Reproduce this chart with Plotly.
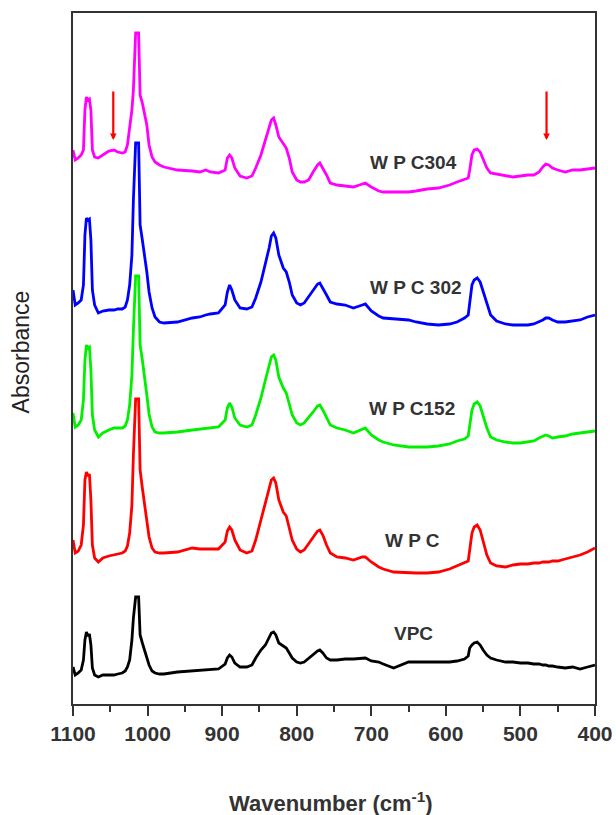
import plotly.graph_objects as go

# Wavenumber grid (cm^-1), shared by all spectra
wavenumber = [
    1100, 1097, 1093, 1089, 1086, 1084, 1082, 1080, 1078, 1076,
    1074, 1071, 1066, 1060, 1052, 1045, 1040, 1034, 1030, 1027,
    1024, 1021, 1019, 1017, 1016, 1012, 1011, 1010, 1007, 1004,
    1001, 998, 994, 990, 984, 978, 960, 940, 930, 922,
    916, 905, 896, 893, 890, 887, 883, 876, 867, 860,
    855, 848, 842, 837, 834, 831, 828, 824, 818, 814,
    810, 806, 800, 795, 790, 784, 778, 772, 769, 765,
    760, 755, 746, 735, 724, 712, 708, 700, 690, 684,
    670, 650, 640, 625, 610, 595, 585, 575, 570, 568,
    565, 562, 558, 554, 550, 545, 540, 532, 520, 510,
    500, 490, 482, 475, 470, 466, 462, 457, 450, 440,
    430, 420, 410, 400,
]

# Absorbance (a.u., stacked as drawn)
wpc304 = [
    5.54, 5.44, 5.46, 5.49, 5.54, 5.94, 6.07, 6.04, 6.05, 5.94,
    5.54, 5.47, 5.46, 5.49, 5.53, 5.54, 5.52, 5.51, 5.52, 5.59,
    5.74, 5.94, 6.14, 6.64, 6.71, 6.71, 6.24, 6.09, 6.01, 5.91,
    5.79, 5.59, 5.47, 5.42, 5.39, 5.37, 5.34, 5.33, 5.32, 5.34,
    5.32, 5.31, 5.34, 5.46, 5.49, 5.46, 5.36, 5.28, 5.26, 5.28,
    5.36, 5.49, 5.64, 5.74, 5.84, 5.86, 5.79, 5.67, 5.61, 5.56,
    5.46, 5.32, 5.24, 5.22, 5.22, 5.24, 5.32, 5.39, 5.41, 5.36,
    5.29, 5.21, 5.19, 5.18, 5.17, 5.20, 5.21, 5.17, 5.13, 5.12,
    5.12, 5.12, 5.13, 5.15, 5.16, 5.19, 5.22, 5.25, 5.26, 5.34,
    5.49, 5.54, 5.55, 5.52, 5.44, 5.36, 5.31, 5.30, 5.29, 5.27,
    5.28, 5.29, 5.29, 5.32, 5.37, 5.40, 5.39, 5.36, 5.34, 5.32,
    5.34, 5.34, 5.35, 5.36,
]

wpc302 = [
    4.14, 3.99, 4.01, 4.04, 4.19, 4.69, 4.86, 4.84, 4.85, 4.64,
    4.14, 3.99, 3.91, 3.93, 3.94, 3.94, 3.95, 3.95, 3.97, 4.04,
    4.19, 4.49, 5.04, 5.56, 5.61, 5.61, 5.04, 4.79, 4.64, 4.49,
    4.32, 4.12, 3.96, 3.87, 3.82, 3.81, 3.82, 3.86, 3.87, 3.89,
    3.90, 3.91, 3.99, 4.12, 4.19, 4.14, 4.04, 3.96, 3.95, 3.97,
    4.06, 4.22, 4.39, 4.56, 4.68, 4.71, 4.66, 4.49, 4.36, 4.32,
    4.22, 4.09, 4.01, 3.99, 4.01, 4.07, 4.14, 4.20, 4.21, 4.16,
    4.09, 4.02, 4.00, 3.99, 3.96, 3.99, 4.00, 3.93, 3.88, 3.86,
    3.85, 3.84, 3.82, 3.80, 3.79, 3.80, 3.82, 3.86, 3.89, 3.99,
    4.19, 4.24, 4.26, 4.22, 4.12, 3.99, 3.89, 3.83, 3.80, 3.79,
    3.79, 3.79, 3.80, 3.82, 3.84, 3.86, 3.86, 3.84, 3.82, 3.82,
    3.83, 3.84, 3.87, 3.89,
]

wpc152 = [
    2.91, 2.77, 2.79, 2.84, 3.04, 3.44, 3.59, 3.56, 3.57, 3.34,
    2.89, 2.74, 2.67, 2.71, 2.74, 2.76, 2.76, 2.76, 2.78, 2.84,
    2.99, 3.29, 3.74, 4.22, 4.28, 4.28, 3.84, 3.59, 3.44, 3.29,
    3.09, 2.90, 2.77, 2.72, 2.71, 2.71, 2.72, 2.74, 2.75, 2.76,
    2.76, 2.77, 2.84, 2.96, 3.01, 2.97, 2.86, 2.79, 2.77, 2.79,
    2.89, 3.06, 3.24, 3.38, 3.47, 3.49, 3.44, 3.27, 3.16, 3.11,
    3.01, 2.89, 2.81, 2.79, 2.81, 2.86, 2.92, 2.98, 2.99, 2.94,
    2.86, 2.79, 2.76, 2.74, 2.71, 2.75, 2.76, 2.69, 2.64, 2.62,
    2.59, 2.57, 2.57, 2.57, 2.58, 2.60, 2.63, 2.65, 2.68, 2.79,
    2.94, 3.00, 3.02, 2.98, 2.88, 2.76, 2.67, 2.64, 2.62, 2.61,
    2.61, 2.62, 2.63, 2.66, 2.68, 2.69, 2.68, 2.66, 2.67, 2.68,
    2.70, 2.71, 2.72, 2.73,
]

wpc = [
    1.64, 1.51, 1.53, 1.59, 1.79, 2.24, 2.32, 2.28, 2.30, 2.04,
    1.59, 1.46, 1.42, 1.46, 1.48, 1.49, 1.50, 1.51, 1.53, 1.58,
    1.71, 1.99, 2.49, 2.99, 3.05, 3.05, 2.64, 2.34, 2.16, 2.01,
    1.84, 1.67, 1.56, 1.52, 1.51, 1.51, 1.52, 1.56, 1.55, 1.55,
    1.55, 1.55, 1.62, 1.73, 1.77, 1.74, 1.64, 1.54, 1.51, 1.53,
    1.64, 1.84, 2.01, 2.16, 2.24, 2.26, 2.21, 2.04, 1.92, 1.88,
    1.77, 1.64, 1.55, 1.52, 1.54, 1.60, 1.67, 1.73, 1.74, 1.69,
    1.59, 1.51, 1.47, 1.46, 1.44, 1.47, 1.47, 1.42, 1.37, 1.35,
    1.32, 1.31, 1.31, 1.31, 1.32, 1.35, 1.38, 1.41, 1.43, 1.54,
    1.71, 1.77, 1.79, 1.74, 1.62, 1.49, 1.41, 1.38, 1.37, 1.39,
    1.40, 1.40, 1.41, 1.41, 1.42, 1.42, 1.42, 1.43, 1.43, 1.45,
    1.47, 1.49, 1.52, 1.56,
]

vpc = [
    0.37, 0.29, 0.31, 0.34, 0.44, 0.64, 0.72, 0.68, 0.70, 0.59,
    0.36, 0.29, 0.27, 0.29, 0.29, 0.29, 0.30, 0.31, 0.33, 0.37,
    0.44, 0.64, 0.86, 1.04, 1.07, 1.07, 0.84, 0.69, 0.61, 0.54,
    0.47, 0.39, 0.33, 0.31, 0.30, 0.30, 0.32, 0.33, 0.34, 0.34,
    0.34, 0.35, 0.40, 0.46, 0.49, 0.47, 0.41, 0.37, 0.37, 0.39,
    0.46, 0.54, 0.59, 0.66, 0.71, 0.72, 0.69, 0.61, 0.58, 0.56,
    0.51, 0.46, 0.42, 0.41, 0.42, 0.46, 0.50, 0.53, 0.54, 0.51,
    0.46, 0.44, 0.44, 0.45, 0.45, 0.46, 0.46, 0.43, 0.42, 0.40,
    0.36, 0.42, 0.42, 0.42, 0.42, 0.42, 0.43, 0.45, 0.48, 0.56,
    0.59, 0.61, 0.62, 0.59, 0.54, 0.49, 0.46, 0.44, 0.42, 0.42,
    0.41, 0.41, 0.40, 0.40, 0.39, 0.39, 0.38, 0.38, 0.37, 0.36,
    0.37, 0.35, 0.37, 0.39,
]

series_names = ["WPC304", "WPC302", "WPC152", "WPC", "VPC"]
series_values = [wpc304, wpc302, wpc152, wpc, vpc]
series_colors = ["#ff00ff", "#0000ff", "#00f000", "#ff0000", "#000000"]

# Curve labels: text, wavenumber, absorbance
label_texts = ["W P C304", "W P C 302", "W P C152", "W P C", "VPC"]
label_x = [643, 640, 645, 645, 643]
label_y = [5.42, 4.17, 2.96, 1.64, 0.71]

# Red arrows marking new bands: wavenumber, tail and head absorbance
arrow_x = [1046, 465]
arrow_tail = 6.14
arrow_head = 5.64

xticks = [1100, 1000, 900, 800, 700, 600, 500, 400]
xminor = [1050, 950, 850, 750, 650, 550, 450]

fig = go.Figure()
for name, vals, col in zip(series_names, series_values, series_colors):
    n = min(len(wavenumber), len(vals))
    fig.add_trace(go.Scatter(x=wavenumber[:n], y=vals[:n], mode="lines", name=name,
                             line=dict(color=col, width=2.8), showlegend=False))

annotations = []
for t, x, y in zip(label_texts, label_x, label_y):
    annotations.append(dict(x=x, y=y, xref="x", yref="y", text=t, showarrow=False,
                            font=dict(family="Liberation Sans, Arial", size=19, color="#333333", weight="bold"),
                            xanchor="center", yanchor="middle"))
for ax_ in arrow_x:
    annotations.append(dict(x=ax_, y=arrow_head, ax=ax_, ay=arrow_tail, xref="x", yref="y",
                            axref="x", ayref="y", showarrow=True, arrowhead=2, arrowsize=0.6,
                            arrowwidth=2.2, arrowcolor="#ff0000", text=""))
annotations.append(dict(x=0.495, y=-0.142, xref="paper", yref="paper",
                        text="Wavenumber (cm<sup>-1</sup>)", showarrow=False,
                        font=dict(family="Liberation Sans, Arial", size=22, color="#333333", weight="bold"),
                        xanchor="center", yanchor="middle"))
annotations.append(dict(x=-0.10, y=0.51, xref="paper", yref="paper", text="Absorbance",
                        textangle=-90, showarrow=False,
                        font=dict(family="Liberation Sans, Arial", size=23, color="#222222"),
                        xanchor="center", yanchor="middle"))

fig.update_layout(
    width=616, height=815,
    margin=dict(l=73, r=21, t=13, b=111, autoexpand=False),
    paper_bgcolor="white", plot_bgcolor="white",
    annotations=annotations,
    xaxis=dict(range=[1100, 400], tickmode="array", tickvals=xticks,
               ticktext=[str(v) for v in xticks], automargin=False, ticklabeloverflow="allow",
               ticks="outside", ticklen=10, tickwidth=1.6, tickcolor="#333333",
               minor=dict(tickmode="array", tickvals=xminor, ticks="outside", ticklen=6,
                          tickwidth=1.6, tickcolor="#333333"),
               showline=True, mirror=True, linecolor="#333333", linewidth=1.6,
               showgrid=False, zeroline=False,
               tickfont=dict(family="Liberation Sans, Arial", size=21, color="#333333", weight="bold")),
    yaxis=dict(range=[0, 6.91], showticklabels=False, ticks="", showline=True, mirror=True,
               automargin=False,
               linecolor="#333333", linewidth=1.6, showgrid=False, zeroline=False),
)

fig.write_html("out.html")
